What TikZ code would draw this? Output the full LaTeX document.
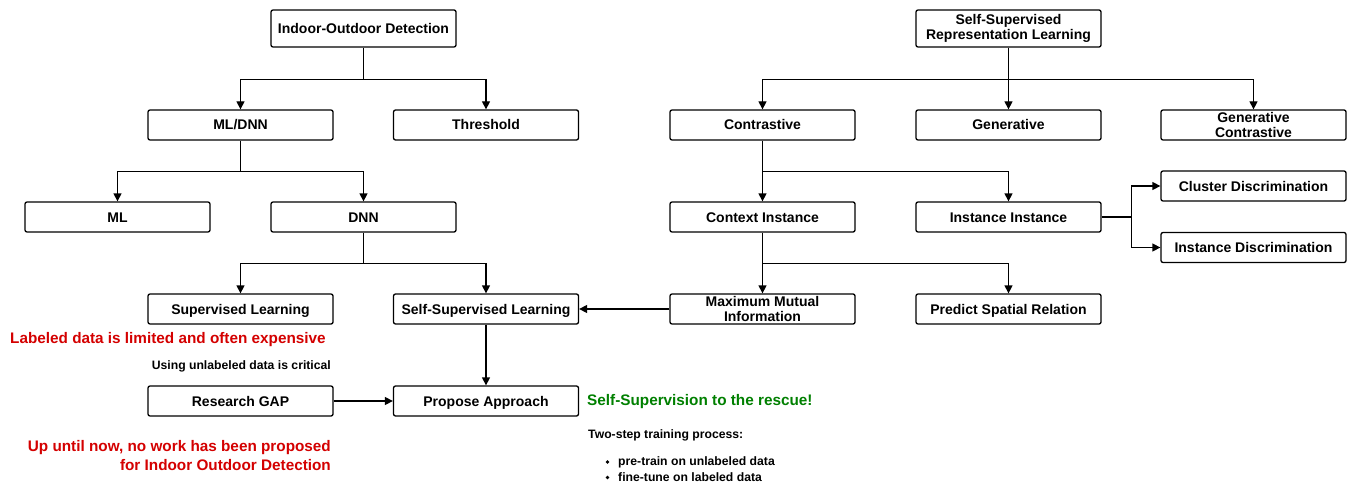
\documentclass[tikz,border=0pt]{standalone}
\usepackage{fontspec}
\setmainfont{Liberation Sans}
\usetikzlibrary{arrows.meta}
\definecolor{myred}{RGB}{212,0,0}
\definecolor{mygreen}{RGB}{0,128,0}
\tikzset{
  mbox/.style={draw, rounded corners=2pt, line width=1.3pt, minimum width=185pt, minimum height=30pt,
    inner xsep=2pt, inner ysep=0pt, align=center, font=\fontsize{14}{15.5}\selectfont\bfseries},
  box/.style={mbox, text height=12pt, text depth=2pt},
  topbox/.style={mbox, minimum height=37pt},
  link/.style={line width=1.3pt},
  arr/.style={line width=1.3pt, -{Stealth[length=8pt,width=8pt,inset=0pt]}},
  redtxt/.style={text=myred, font=\fontsize{15.3}{19}\selectfont\bfseries, inner sep=0pt},
  smalltxt/.style={font=\fontsize{12.2}{15}\selectfont\bfseries, inner sep=0pt},
}
\begin{document}
\begin{tikzpicture}[x=1pt,y=-1pt]
\useasboundingbox[fill=white] (0,0) rectangle (1356,489);
% left tree
\node[topbox, text height=12pt, text depth=2pt] (iod) at (363.5,28.5) {Indoor-Outdoor Detection};
\node[box] (mldnn) at (240.5,125) {ML/DNN};
\node[box] (thr) at (486,125) {Threshold};
\node[box] (ml) at (117.5,217) {ML};
\node[box] (dnn) at (363.5,217) {DNN};
\node[box] (sup) at (240.5,309) {Supervised Learning};
\node[box] (ssl) at (486,309) {Self-Supervised Learning};
\node[box] (gap) at (240.5,401) {Research GAP};
\node[box] (prop) at (486,401) {Propose Approach};
% right tree
\node[topbox] (srl) at (1008.5,28.5) {Self-Supervised\\Representation Learning};
\node[box] (con) at (762.5,125) {Contrastive};
\node[box] (gen) at (1008.5,125) {Generative};
\node[mbox] (gc) at (1253.5,125) {Generative\\Contrastive};
\node[box] (ctx) at (762.5,217) {Context Instance};
\node[box] (ii) at (1008.5,217) {Instance Instance};
\node[box] (cd) at (1253.5,186) {Cluster Discrimination};
\node[box] (id) at (1253.5,247.5) {Instance Discrimination};
\node[mbox] (mmi) at (762.5,309) {Maximum Mutual\\Information};
\node[box] (psr) at (1008.5,309) {Predict Spatial Relation};
% connectors left
\draw[link] (iod.south) -- ++(0,32) coordinate (j1);
\draw[arr] (j1) -| (mldnn.north);
\draw[arr] (j1) -| (thr.north);
\draw[link] (mldnn.south) -- ++(0,31) coordinate (j2);
\draw[arr] (j2) -| (ml.north);
\draw[arr] (j2) -| (dnn.north);
\draw[link] (dnn.south) -- ++(0,31) coordinate (j3);
\draw[arr] (j3) -| (sup.north);
\draw[arr] (j3) -| (ssl.north);
\draw[arr] (ssl.south) -- (prop.north);
\draw[arr] (gap.east) -- (prop.west);
% connectors right
\draw[link] (srl.south) -- ++(0,32) coordinate (j4);
\draw[arr] (j4) -| (con.north);
\draw[arr] (j4) -- (gen.north);
\draw[arr] (j4) -| (gc.north);
\draw[link] (con.south) -- ++(0,31) coordinate (j5);
\draw[arr] (j5) -- (ctx.north);
\draw[arr] (j5) -| (ii.north);
\draw[link] (ctx.south) -- ++(0,31) coordinate (j6);
\draw[arr] (j6) -- (mmi.north);
\draw[arr] (j6) -| (psr.north);
\draw[link] (ii.east) -- ++(30,0) coordinate (j7);
\draw[arr] (j7) |- (cd.west);
\draw[arr] (j7) |- (id.west);
\draw[arr] (mmi.west) -- (ssl.east);
% texts
\node[redtxt, anchor=west] (t1) at (10,340) {Labeled data is limited and often expensive};
\node[smalltxt, anchor=east] (t2) at (331,366) {Using unlabeled data is critical};
\node[redtxt, anchor=east, align=right] (t3) at (331,455.5) {Up until now, no work has been proposed\\for Indoor Outdoor Detection};
\node[redtxt, text=mygreen, anchor=west] (t4) at (587,402) {Self-Supervision to the rescue!};
\node[smalltxt, anchor=west] (t5) at (588,435) {Two-step training process:};
\node[smalltxt, anchor=west] (t6) at (618,462) {pre-train on unlabeled data};
\node[smalltxt, anchor=west] (t7) at (618,477.5) {fine-tune on labeled data};
\fill (607.5,462) circle (1.8pt);
\fill (607.5,477.5) circle (1.8pt);
\end{tikzpicture}
\end{document}
